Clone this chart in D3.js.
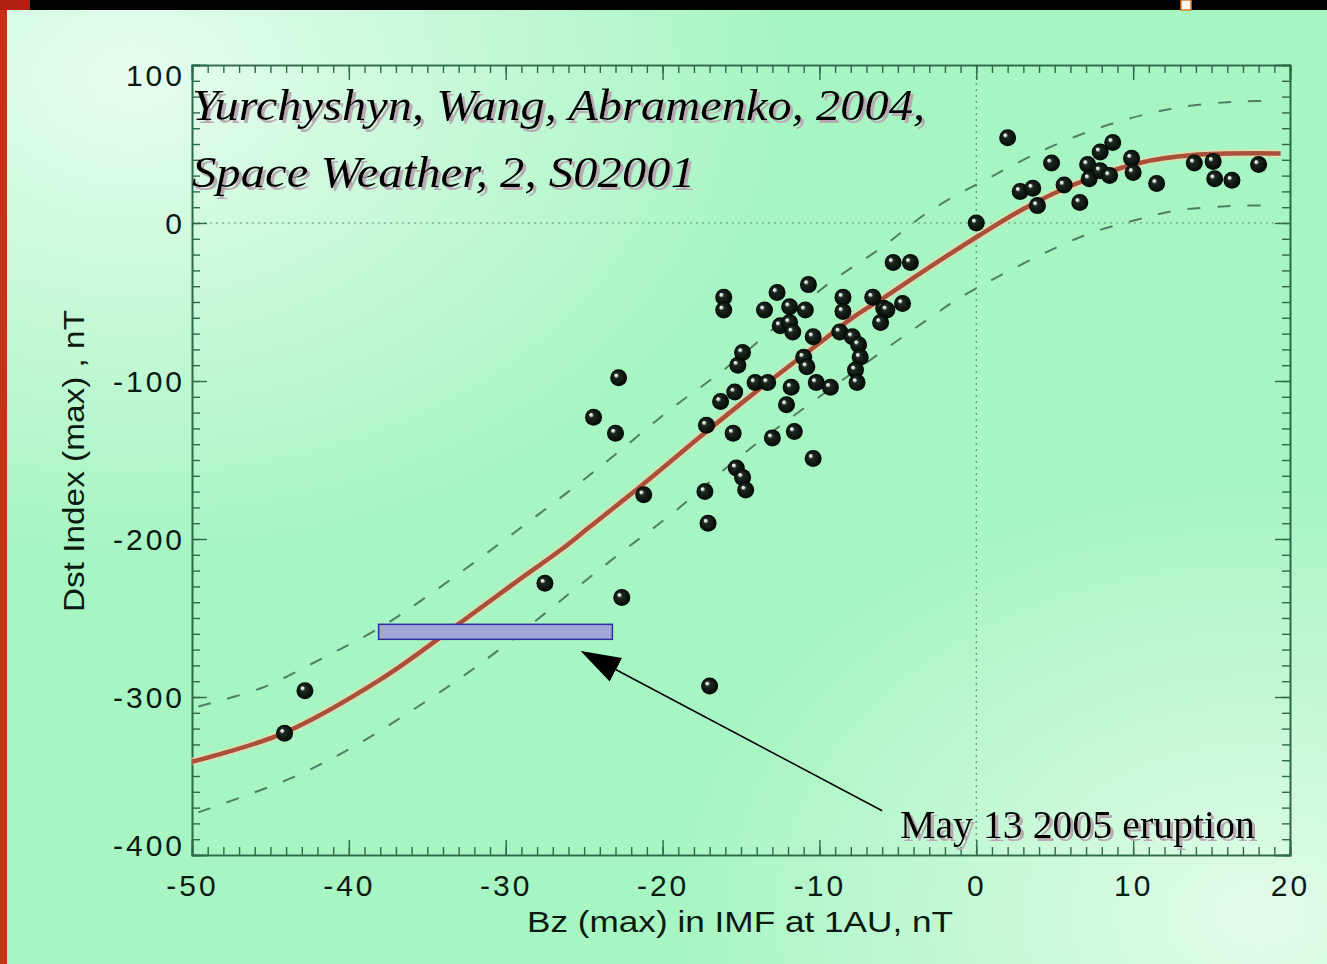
<!DOCTYPE html>
<html>
<head>
<meta charset="utf-8">
<script src="https://cdn.jsdelivr.net/npm/d3@7"></script>
<style>
  html, body { margin: 0; padding: 0; background: #a8f5c4; }
  svg { display: block; }
</style>
</head>
<body>
<div id="chart"></div>
<script>
// Storm events: Bz (max) vs Dst (max)
const bz = [-44.1, -42.8, -27.5, -22.6, -17.0, -24.4, -23.0, -22.8, -21.2, -17.3, -17.1,
  -17.2, -16.3, -15.4, -15.2, -14.9, -16.1, -16.1, -15.5, -15.3, -14.9, -14.7, -14.1, -13.3,
  -13.5, -12.7, -12.5, -11.9, -11.9, -11.7, -10.9, -10.7, -10.4, -11.0, -10.8, -10.2, -9.3,
  -11.8, -12.1, -13.0, -11.6, -10.4, -8.7, -8.5, -8.5, -7.9, -7.5, -7.4, -7.7, -7.6, -6.6,
  -5.9, -4.7, -6.1, -5.7, -5.3, -4.2, 0.0, 2.0, 2.8, 3.6, 3.9, 4.8, 5.6, 6.6, 7.1, 7.2, 7.9,
  8.7, 7.9, 8.5, 9.9, 10.0, 11.5, 13.9, 15.1, 15.2, 16.3, 18.0];
const dst = [-323, -296, -228, -237, -293, -123, -133, -98, -172, -170, -190,
  -128, -113, -107, -90, -82, -47, -55, -133, -155, -161, -169, -101, -101,
  -55, -44, -65, -53, -63, -69, -55, -39, -72, -85, -91, -101, -104,
  -104, -115, -136, -132, -149, -69, -47, -56, -72, -77, -85, -93, -101, -47,
  -54, -51, -63, -55, -25, -25, 0, 54, 20, 22, 11, 38, 24, 13, 37, 28, 45,
  51, 33, 30, 41, 32, 25, 38, 39, 28, 27, 37];

// fitted curve and the two dashed envelope lines
const fitBz  = [-50, -44.2, -38.0, -32.9, -28.9, -26.5, -24.6, -21.2, -17.2, -14.2, -10.0, -7.9, -5.7, -3.6, 0, 3.2, 6.4, 10.4, 13.8, 19.4];
const fitDst = [-341, -323, -289, -253, -224, -207, -192, -165, -132, -108, -76, -60, -46, -32, -9, 10, 25, 38, 43, 44];
const upperBz  = [-49.6, -45.5, -41.6, -38.0, -34.4, -26.0, -22.7, -19.5, -16.1, -9.5, -6.1, -2.9, 0.9, 4.7, 8.7, 12.8, 17.0, 19.0];
const upperDst = [-306, -294, -275, -256, -232, -170, -144, -118, -93, -39, -16, 8, 29, 48, 63, 73, 77, 77];
const lowerBz  = [-49.6, -43.6, -39.8, -36.2, -32.6, -29.5, -26.0, -22.7, -19.4, -14.7, -6.1, -2.8, -1.0, 6.6, 10.6, 12.8, 17.0, 19.0];
const lowerDst = [-373, -351, -332, -310, -286, -263, -235, -209, -184, -145, -82, -59, -47, -9, 3, 8, 11, 11];

const xTicks = [-50, -40, -30, -20, -10, 0, 10, 20];
const yTicks = [100, 0, -100, -200, -300, -400];

// May 13 2005 event box and arrow
const eventBz = [-38.1, -23.2];
const eventDst = [-254, -263.5];
const arrowFrom = [-6.0, -372];
const arrowTo = [-25.1, -271.5];

const width = 1327, height = 964;
const svg = d3.select("#chart").append("svg")
  .attr("width", width)
  .attr("height", height);

const defs = svg.append("defs");

const glow1 = defs.append("radialGradient").attr("id", "glow1")
  .attr("cx", 0.1).attr("cy", 0.08).attr("r", 0.5);
glow1.append("stop").attr("offset", "0%").attr("stop-color", "#e6fcee");
glow1.append("stop").attr("offset", "100%").attr("stop-color", "#e6fcee").attr("stop-opacity", 0);

const glow2 = defs.append("radialGradient").attr("id", "glow2")
  .attr("cx", 0.95).attr("cy", 0.95).attr("r", 0.45);
glow2.append("stop").attr("offset", "0%").attr("stop-color", "#e2fbe9");
glow2.append("stop").attr("offset", "100%").attr("stop-color", "#e2fbe9").attr("stop-opacity", 0);

const ball = defs.append("radialGradient").attr("id", "ball")
  .attr("cx", 0.5).attr("cy", 0.5).attr("r", 0.5)
  .attr("fx", 0.32).attr("fy", 0.32);
ball.append("stop").attr("offset", "0%").attr("stop-color", "#f4fff6");
ball.append("stop").attr("offset", "16%").attr("stop-color", "#c8d8cc");
ball.append("stop").attr("offset", "30%").attr("stop-color", "#1e2a22");
ball.append("stop").attr("offset", "100%").attr("stop-color", "#020805");

const shadow = defs.append("filter").attr("id", "shadow")
  .attr("x", "-5%").attr("y", "-20%").attr("width", "110%").attr("height", "150%");
shadow.append("feDropShadow")
  .attr("dx", 3).attr("dy", 3).attr("stdDeviation", 0.4)
  .attr("flood-color", "#b9a9b2").attr("flood-opacity", 1);

defs.append("marker").attr("id", "arrow")
  .attr("markerUnits", "userSpaceOnUse")
  .attr("markerWidth", 40).attr("markerHeight", 30)
  .attr("viewBox", "0 -12 36 24")
  .attr("refX", 34).attr("refY", 0)
  .attr("orient", "auto")
  .append("path")
  .attr("d", "M0,-12L36,0L0,12Z")
  .attr("fill", "#000");

// background
svg.append("rect").attr("width", width).attr("height", height).attr("fill", "#a6f5c2");
svg.append("rect").attr("width", width).attr("height", height).attr("fill", "url(#glow1)");
svg.append("rect").attr("width", width).attr("height", height).attr("fill", "url(#glow2)");
svg.append("rect").attr("width", 7).attr("height", height).attr("fill", "#c8301a");
svg.append("rect").attr("width", width).attr("height", 10).attr("fill", "#020202");
svg.append("rect").attr("width", 30).attr("height", 10).attr("fill", "#b02010");
svg.append("rect").attr("x", 1181).attr("width", 10).attr("height", 10).attr("fill", "#fff6ee")
  .attr("stroke", "#e07a20").attr("stroke-width", 1.5);

const x = d3.scaleLinear().domain([-50, 20]).range([192, 1290]);
const y = d3.scaleLinear().domain([-400, 100]).range([855, 65]);

const frameColor = "#2e6a48";
const labelFont = "'Liberation Sans', Arial, sans-serif";
const hyphen = d => String(d);

// zero grid lines
svg.append("line")
  .attr("x1", x(0)).attr("x2", x(0)).attr("y1", y(100)).attr("y2", y(-400))
  .attr("stroke", "#5e8f74").attr("stroke-width", 1.2).attr("stroke-dasharray", "2,4");
svg.append("line")
  .attr("x1", x(-50)).attr("x2", x(20)).attr("y1", y(0)).attr("y2", y(0))
  .attr("stroke", "#5e8f74").attr("stroke-width", 1.2).attr("stroke-dasharray", "2,4");

// axes: minor + major ticks, all pointing inward
function styleAxis(g) {
  g.select(".domain").attr("stroke", frameColor).attr("stroke-width", 1.6);
  g.selectAll(".tick line").attr("stroke", frameColor).attr("stroke-width", 1.4);
}

svg.append("g").attr("transform", `translate(0,${y(-400)})`)
  .call(d3.axisBottom(x).tickValues(d3.range(-50, 21, 1)).tickSize(-8).tickFormat(""))
  .call(styleAxis);
svg.append("g").attr("transform", `translate(0,${y(100)})`)
  .call(d3.axisTop(x).tickValues(d3.range(-50, 21, 1)).tickSize(-8).tickFormat(""))
  .call(styleAxis);
svg.append("g").attr("transform", `translate(${x(-50)},0)`)
  .call(d3.axisLeft(y).tickValues(d3.range(-400, 101, 10)).tickSize(-8).tickFormat(""))
  .call(styleAxis);
svg.append("g").attr("transform", `translate(${x(20)},0)`)
  .call(d3.axisRight(y).tickValues(d3.range(-400, 101, 10)).tickSize(-8).tickFormat(""))
  .call(styleAxis);

svg.append("g").attr("transform", `translate(0,${y(100)})`)
  .call(d3.axisTop(x).tickValues(xTicks).tickSize(-15).tickFormat(""))
  .call(styleAxis);
svg.append("g").attr("transform", `translate(${x(20)},0)`)
  .call(d3.axisRight(y).tickValues(yTicks).tickSize(-15).tickFormat(""))
  .call(styleAxis);

const xAxis = svg.append("g").attr("transform", `translate(0,${y(-400)})`)
  .call(d3.axisBottom(x).tickValues(xTicks).tickSize(-15).tickPadding(20).tickFormat(hyphen))
  .call(styleAxis);
xAxis.selectAll("text")
  .attr("font-family", labelFont).attr("font-size", 30)
  .attr("letter-spacing", 3).attr("fill", "#0b1a10");

const yAxis = svg.append("g").attr("transform", `translate(${x(-50)},0)`)
  .call(d3.axisLeft(y).tickValues(yTicks).tickSize(-15).tickPadding(7).tickFormat(hyphen))
  .call(styleAxis);
yAxis.selectAll("text")
  .attr("font-family", labelFont).attr("font-size", 30)
  .attr("letter-spacing", 3).attr("fill", "#0b1a10")
  .attr("dy", d => d === 100 ? "0.67em" : d === -400 ? "0em" : "0.35em");

// axis titles
svg.append("text")
  .attr("x", 527).attr("y", 932)
  .attr("font-family", labelFont).attr("font-size", 30)
  .attr("textLength", 426).attr("lengthAdjust", "spacingAndGlyphs")
  .attr("fill", "#0b1a10")
  .text("Bz (max) in IMF at 1AU, nT");
svg.append("text")
  .attr("transform", "translate(84,612) rotate(-90)")
  .attr("font-family", labelFont).attr("font-size", 30)
  .attr("textLength", 302).attr("lengthAdjust", "spacingAndGlyphs")
  .attr("fill", "#0b1a10")
  .text("Dst Index (max) , nT");

// envelope lines
const lineGen = d3.line().x(d => x(d[0])).y(d => y(d[1])).curve(d3.curveCatmullRom);
[[upperBz, upperDst], [lowerBz, lowerDst]].forEach(([bs, ds]) => {
  svg.append("path")
    .datum(bs.map((b, i) => [b, ds[i]]))
    .attr("d", lineGen)
    .attr("fill", "none")
    .attr("stroke", "#4f8064")
    .attr("stroke-width", 2)
    .attr("stroke-dasharray", "13,17");
});

// fit curve
const fitData = fitBz.map((b, i) => [b, fitDst[i]]);
svg.append("path").datum(fitData).attr("d", lineGen)
  .attr("fill", "none").attr("stroke", "#f2d7ae").attr("stroke-width", 8).attr("stroke-opacity", 0.7);
svg.append("path").datum(fitData).attr("d", lineGen)
  .attr("fill", "none").attr("stroke", "#a9503b").attr("stroke-width", 4.5);

// events
svg.append("g").selectAll("circle")
  .data(bz.map((b, i) => [b, dst[i]]))
  .join("circle")
  .attr("cx", d => x(d[0]))
  .attr("cy", d => y(d[1]))
  .attr("r", 8.5)
  .attr("fill", "url(#ball)");

// May 13 2005 box
svg.append("rect")
  .attr("x", x(eventBz[0]))
  .attr("y", y(eventDst[0]))
  .attr("width", x(eventBz[1]) - x(eventBz[0]))
  .attr("height", y(eventDst[1]) - y(eventDst[0]))
  .attr("fill", "#a5a6d8")
  .attr("stroke", "#2b2fa6")
  .attr("stroke-width", 1.5);

svg.append("line")
  .attr("x1", x(arrowFrom[0])).attr("y1", y(arrowFrom[1]))
  .attr("x2", x(arrowTo[0])).attr("y2", y(arrowTo[1]))
  .attr("stroke", "#000").attr("stroke-width", 1.5)
  .attr("marker-end", "url(#arrow)");

// text with drop shadow
const serif = "'Liberation Serif', 'Times New Roman', serif";
function shadowText(tx, ty, str, size, len, italic) {
  svg.append("text")
    .attr("x", tx).attr("y", ty)
    .attr("font-family", serif)
    .attr("font-style", italic ? "italic" : "normal")
    .attr("font-size", size)
    .attr("textLength", len).attr("lengthAdjust", "spacingAndGlyphs")
    .attr("fill", "#000")
    .attr("filter", "url(#shadow)")
    .text(str);
}
shadowText(192, 120, "Yurchyshyn, Wang, Abramenko, 2004,", 45, 733, true);
shadowText(192, 187, "Space Weather, 2, S02001", 45, 503, true);
shadowText(900, 838, "May 13 2005 eruption", 39, 355, false);
</script>
</body>
</html>
